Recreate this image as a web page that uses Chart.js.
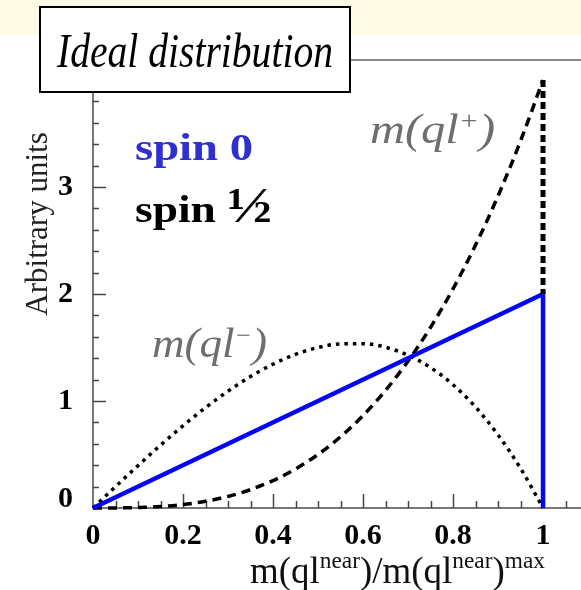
<!DOCTYPE html>
<html><head><meta charset="utf-8">
<script src="https://cdn.jsdelivr.net/npm/chart.js@4.4.1/dist/chart.umd.min.js"></script>
<style>html,body{margin:0;padding:0;background:#fff;}#wrap{width:581px;height:590px;position:relative}</style>
</head><body>
<div id="wrap"><canvas id="c" width="581" height="590"></canvas></div>
<script>
// ===== data =====
var xs=[0,0.05,0.1,0.15,0.2,0.25,0.3,0.35,0.4,0.45,0.5,0.55,0.6,0.65,0.7,0.75,0.8,0.85,0.9,0.95,1];
var plusY=[0,0.001,0.004,0.014,0.032,0.063,0.108,0.172,0.256,0.365,0.5,0.666,0.864,1.099,1.372,1.688,2.048,2.457,2.916,3.43,4.0];
var minusY=[0,0.2,0.396,0.587,0.768,0.938,1.092,1.229,1.344,1.436,1.5,1.534,1.536,1.502,1.428,1.313,1.152,0.944,0.684,0.371,0];
var spin0X=[0,1,1], spin0Y=[0,2,0];
var edgeX=[1,1], edgeY=[4,2];
var xTicks=[0,0.2,0.4,0.6,0.8,1];
var yTicks=[0,1,2,3];

function pts(a,b){return a.map(function(x,i){return {x:x,y:b[i]};});}

var SERIF='"Liberation Serif", "Times New Roman", serif';

function rich(ctx,parts,x,y,w,color){
 ctx.save();
 var tot=0;
 parts.forEach(function(p){ctx.font=p.f;tot+=ctx.measureText(p.t).width;});
 ctx.translate(x,y); ctx.scale(w?w/tot:1,1);
 ctx.fillStyle=color; ctx.textBaseline='alphabetic'; ctx.textAlign='left';
 var cx=0;
 parts.forEach(function(p){ctx.font=p.f;ctx.fillText(p.t,cx,-(p.r||0));cx+=ctx.measureText(p.t).width;});
 ctx.restore();
}

var deco={
 id:'deco',
 beforeDraw:function(ch){
  var c=ch.ctx;
  c.save(); c.fillStyle='#fff'; c.fillRect(0,0,ch.width,ch.height);
  c.fillStyle='#fdfbe6'; c.fillRect(0,0,ch.width,35); c.restore();
 },
 beforeDatasetsDraw:function(ch){
  var c=ch.ctx, a=ch.chartArea, sx=ch.scales.x, sy=ch.scales.y;
  c.save(); c.strokeStyle='#444'; c.lineWidth=1.5;
  // inward ticks
  for(var i=1;i<=21;i++){
   var px=Math.round(sx.getPixelForValue(i*0.05))+0.5, L=(i%4===0)?14:7;
   c.beginPath(); c.moveTo(px,a.bottom); c.lineTo(px,a.bottom-L); c.stroke();
  }
  for(var j=1;j<=20;j++){
   var py=Math.round(sy.getPixelForValue(j*0.2))+0.5, M=(j%5===0)?13:6;
   c.beginPath(); c.moveTo(a.left,py); c.lineTo(a.left+M,py); c.stroke();
  }
  // top frame
  c.strokeStyle='#888'; c.lineWidth=2;
  c.beginPath(); c.moveTo(a.left,a.top); c.lineTo(a.right,a.top); c.stroke();
  c.restore();
 },
 afterDraw:function(ch){
  var c=ch.ctx;
  // annotations
  rich(c,[{t:'spin 0',f:'bold 38px '+SERIF}],135,160,118,'#3030d0');
  rich(c,[{t:'spin ',f:'bold 38px '+SERIF},{t:'\u00BD',f:'bold 50px '+SERIF}],135,222,137,'#000');
  rich(c,[{t:'m(ql',f:'italic 42px '+SERIF},{t:'+',f:'italic 26px '+SERIF,r:14},{t:')',f:'italic 42px '+SERIF}],370,143,125,'#6e6e6e');
  rich(c,[{t:'m(ql',f:'italic 42px '+SERIF},{t:'\u2212',f:'italic 24px '+SERIF,r:14},{t:')',f:'italic 42px '+SERIF}],152,357,115,'#6e6e6e');
  // x title
  rich(c,[{t:'m(ql',f:'38px '+SERIF},{t:'near',f:'24px '+SERIF,r:15},{t:')/m(ql',f:'38px '+SERIF},{t:'near',f:'24px '+SERIF,r:15},{t:')',f:'38px '+SERIF},{t:'max',f:'24px '+SERIF,r:15}],250,583,295,'#111');
  // y title
  c.save(); c.translate(47,224); c.rotate(-Math.PI/2);
  c.font='31px '+SERIF; c.fillStyle='#222'; c.textAlign='center'; c.textBaseline='alphabetic';
  c.fillText('Arbitrary units',0,0); c.restore();
  // title box
  c.save(); c.fillStyle='#fff'; c.fillRect(40,7,310,85);
  c.strokeStyle='#000'; c.lineWidth=2; c.strokeRect(40,7,310,85); c.restore();
  rich(c,[{t:'Ideal distribution',f:'italic 48px '+SERIF}],57,67,276,'#000');
 }
};

new Chart(document.getElementById('c'),{
 type:'line',
 data:{datasets:[
  {label:'m(ql+) edge',data:pts(edgeX,edgeY),borderColor:'#000',borderWidth:5,borderDash:[7,4],pointRadius:0,clip:false},
  {label:'spin 0',data:pts(spin0X,spin0Y),borderColor:'#0505f5',borderWidth:4.5,pointRadius:0,tension:0,clip:false},
  {label:'m(ql+)',data:pts(xs,plusY),borderColor:'#000',borderWidth:3.5,borderDash:[9,6],pointRadius:0,cubicInterpolationMode:'monotone',clip:false},
  {label:'m(ql-)',data:pts(xs,minusY),borderColor:'#000',borderWidth:3.5,borderDash:[3.5,5],pointRadius:0,cubicInterpolationMode:'monotone',clip:false}
 ]},
 options:{
  responsive:false, animation:false, devicePixelRatio:1,
  layout:{padding:{top:60,left:0,right:0,bottom:0}},
  plugins:{legend:{display:false},tooltip:{enabled:false},title:{display:false}},
  scales:{
   x:{type:'linear',min:0,max:1.0844,
    afterBuildTicks:function(s){s.ticks=xTicks.map(function(v){return {value:v};});},
    afterFit:function(s){s.height=82;},
    grid:{display:false,drawTicks:false},
    border:{display:true,color:'#777',width:2},
    ticks:{padding:10,color:'#000',maxRotation:0,autoSkip:false,font:{family:SERIF,weight:'bold',size:30},
     callback:function(v){return String(v);}}
   },
   y:{type:'linear',min:0,max:4.187,
    afterBuildTicks:function(s){s.ticks=yTicks.map(function(v){return {value:v};});},
    afterFit:function(s){s.width=93;},
    grid:{display:false,drawTicks:false},
    border:{display:true,color:'#777',width:2},
    ticks:{padding:20,color:'#000',font:{family:SERIF,weight:'bold',size:30,lineHeight:'18px'},
     callback:function(v){return v===0?['0','']:String(v);}}
   }
  }
 },
 plugins:[deco]
});
</script>
</body></html>
